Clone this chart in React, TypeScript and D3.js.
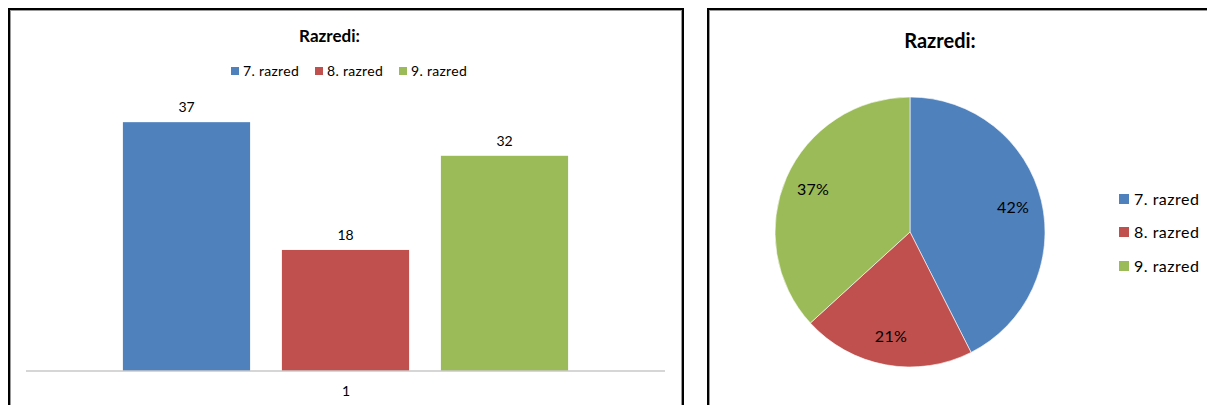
import React from "react";
import * as d3 from "d3";

const series = ["7. razred", "8. razred", "9. razred"];
const values = [37, 18, 32];
// percent labels as printed on the pie
const pieLabels = ["42%", "21%", "37%"];
const colors = ["#4F81BD", "#C0504D", "#9BBB59"];
const categories = ["1"];
const title = "Razredi:";

const FONT = "Lato, 'Open Sans', sans-serif";

const Frame = ({ x, y, w, h }: { x: number; y: number; w: number; h: number }) => (
  <g>
    <rect x={x} y={y} width={w} height={h} fill="#fff" stroke="#000" strokeWidth={2} />
    <rect x={x + 1.5} y={y + 1.5} width={w - 3} height={h - 3} fill="none" stroke="#999" strokeWidth={1} />
  </g>
);

const BarPanel = () => {
  const baseY = 371;
  const x = d3.scaleBand<string>().domain(series).range([107, 584]).paddingInner(0.2).paddingOuter(0.1);
  const y = d3.scaleLinear().domain([0, 40]).range([baseY, 102]);
  const legendX = [231, 315, 399];
  return (
    <g>
      <Frame x={9} y={9} w={674} h={410} />
      <text x={329.5} y={42} textAnchor="middle" fontFamily={FONT} fontWeight="bold" fontSize={17}>
        {title}
      </text>
      {series.map((s, i) => (
        <g key={s}>
          <rect x={legendX[i]} y={67} width={8} height={8} fill={colors[i]} />
          <text x={legendX[i] + 12} y={76} fontFamily={FONT} fontSize={14} letterSpacing={0.3} fill="#000">
            {s}
          </text>
        </g>
      ))}
      {values.map((v, i) => (
        <g key={series[i]}>
          <rect x={x(series[i])} y={y(v)} width={x.bandwidth()} height={baseY - y(v)} fill={colors[i]} />
          <text
            x={(x(series[i]) as number) + x.bandwidth() / 2}
            y={y(v) - 10}
            textAnchor="middle"
            fontFamily={FONT}
            fontSize={14}
          >
            {v}
          </text>
        </g>
      ))}
      <line x1={26} x2={665} y1={baseY} y2={baseY} stroke="#c8c8c8" strokeWidth={1.5} />
      <text x={346} y={396} textAnchor="middle" fontFamily={FONT} fontSize={14}>
        {categories[0]}
      </text>
    </g>
  );
};

const PiePanel = () => {
  const cx = 910;
  const cy = 232;
  const r = 135;
  const pie = d3.pie<number>().sort(null)(values);
  const arc = d3.arc<d3.PieArcDatum<number>>().innerRadius(0).outerRadius(r);
  const labelArc = d3.arc<d3.PieArcDatum<number>>().innerRadius(106).outerRadius(106);
  const legendY = [199, 232, 266];
  return (
    <g>
      <Frame x={708} y={9} w={520} h={410} />
      <text x={940} y={48} textAnchor="middle" fontFamily={FONT} fontWeight="bold" fontSize={20}>
        {title}
      </text>
      <g transform={`translate(${cx},${cy})`}>
        {pie.map((d, i) => (
          <path key={series[i]} d={arc(d) as string} fill={colors[i]} stroke="#fff" strokeWidth={0.6} />
        ))}
        {pie.map((d, i) => {
          const [lx, ly] = labelArc.centroid(d);
          return (
            <text
              key={series[i]}
              x={lx}
              y={ly}
              dy="0.35em"
              textAnchor="middle"
              fontFamily={FONT}
              fontSize={16}
              letterSpacing={0.3}
              fill="#000"
            >
              {pieLabels[i]}
            </text>
          );
        })}
      </g>
      {series.map((s, i) => (
        <g key={s}>
          <rect x={1119} y={legendY[i] - 5} width={10} height={10} fill={colors[i]} />
          <text x={1134} y={legendY[i]} dy="0.35em" fontFamily={FONT} fontSize={16} letterSpacing={0.5} fill="#000">
            {s}
          </text>
        </g>
      ))}
    </g>
  );
};

export default function App() {
  return (
    <svg
      width={1207}
      height={405}
      style={{ position: "absolute", left: 0, top: 0, background: "#fff" }}
    >
      <rect width={1207} height={405} fill="#fff" />
      <BarPanel />
      <PiePanel />
    </svg>
  );
}
